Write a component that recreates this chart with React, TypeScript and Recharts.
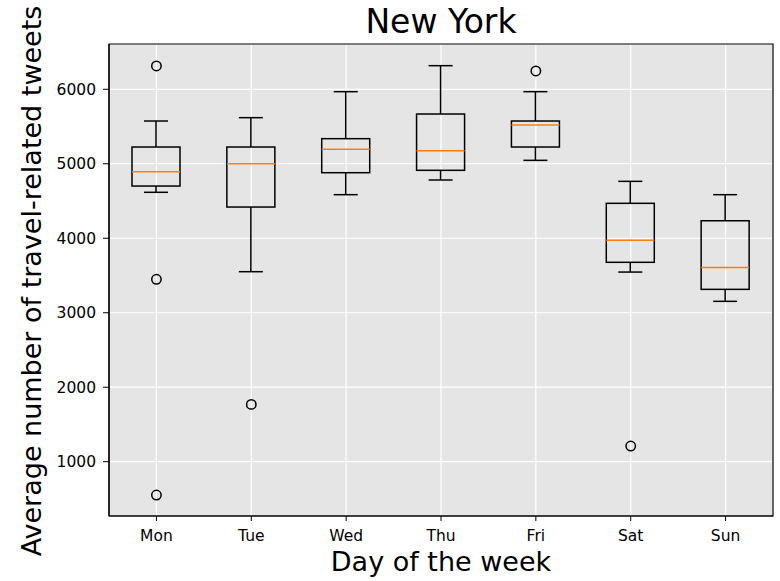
import React from "react";
import { Bar, CartesianGrid, ComposedChart, ReferenceArea, Scatter, XAxis, YAxis } from "recharts";

const days = ["Mon", "Tue", "Wed", "Thu", "Fri", "Sat", "Sun"];
const whiskerLow = [4617, 3551, 4585, 4782, 5046, 3546, 3153];
const q1 = [4701, 4419, 4880, 4912, 5225, 3677, 3314];
const median = [4894, 5000, 5194, 5176, 5521, 3972, 3609];
const q3 = [5225, 5225, 5337, 5668, 5574, 4469, 4235];
const whiskerHigh = [5574, 5619, 5968, 6317, 5968, 4764, 4585];
const outliers: number[][] = [[6313, 3449, 552], [1769], [], [], [6246], [1210], []];
const yTicks = [1000, 2000, 3000, 4000, 5000, 6000];
const yDomain = [271, 6608];

const rows = days.map((day, i) => ({
  day,
  low: whiskerLow[i],
  q1: q1[i],
  med: median[i],
  q3: q3[i],
  high: whiskerHigh[i],
  out0: outliers[i][0] ?? null,
  out1: outliers[i][1] ?? null,
  out2: outliers[i][2] ?? null
}));

const font = "DejaVu Sans, Verdana, sans-serif";
const line = "#000";

// the bar spans low..high, so the rest of the box is placed along that span
function BoxShape(props: any) {
  const { x, y, width, height, payload } = props;
  if (payload == null || height == null) return <g />;
  const top = Math.min(y, y + height);
  const bottom = Math.max(y, y + height);
  const per = (bottom - top) / (payload.high - payload.low);
  const toY = (v: number) => bottom - (v - payload.low) * per;
  const cx = x + width / 2;
  const cap = width / 4;
  const yq1 = toY(payload.q1);
  const yq3 = toY(payload.q3);
  const ymed = toY(payload.med);
  return (
    <g>
      <line x1={cx} x2={cx} y1={top} y2={yq3} stroke={line} strokeWidth={1.5} />
      <line x1={cx} x2={cx} y1={yq1} y2={bottom} stroke={line} strokeWidth={1.5} />
      <line x1={cx - cap} x2={cx + cap} y1={top} y2={top} stroke={line} strokeWidth={1.5} />
      <line x1={cx - cap} x2={cx + cap} y1={bottom} y2={bottom} stroke={line} strokeWidth={1.5} />
      <rect x={x} y={yq3} width={width} height={yq1 - yq3} fill="none" stroke={line} strokeWidth={1.5} />
      <line x1={x} x2={x + width} y1={ymed} y2={ymed} stroke="#ff7f0e" strokeWidth={1.5} />
    </g>
  );
}

const flier = (key: string) => (props: any) => {
  const { cx, cy, payload } = props;
  if (payload == null || payload[key] == null || cx == null || cy == null || Number.isNaN(cy)) return <g />;
  return <circle cx={cx} cy={cy} r={4.7} fill="none" stroke={line} strokeWidth={1.5} />;
};

export default function App() {
  return (
    <div style={{ position: "absolute", left: 0, top: 0, width: 780, height: 581, background: "#fff" }}>
      <ComposedChart width={780} height={581} data={rows} margin={{ top: 44, right: 7, bottom: 0, left: 0 }}>
        <CartesianGrid fill="#e5e5e5" stroke="#fff" strokeWidth={1.2} />
        <XAxis
          dataKey="day"
          height={65}
          tickSize={5}
          tickMargin={9}
          tick={{ fontSize: 15.5, fill: "#000", fontFamily: font }}
          tickLine={{ stroke: line }}
          axisLine={{ stroke: line, strokeWidth: 1.2 }}
        />
        <YAxis
          type="number"
          domain={yDomain}
          ticks={yTicks}
          allowDataOverflow
          width={109}
          tickSize={6}
          tickMargin={7}
          tick={{ fontSize: 15.5, fill: "#000", fontFamily: font }}
          tickLine={{ stroke: line }}
          axisLine={{ stroke: line, strokeWidth: 1.2 }}
        />
        <ReferenceArea y1={yDomain[0]} y2={yDomain[1]} fill="none" stroke={line} strokeWidth={1.2} ifOverflow="visible" />
        <Bar dataKey={(d: any) => [d.low, d.high]} barSize={48} shape={<BoxShape />} isAnimationActive={false} />
        <Scatter dataKey="out0" shape={flier("out0")} isAnimationActive={false} />
        <Scatter dataKey="out1" shape={flier("out1")} isAnimationActive={false} />
        <Scatter dataKey="out2" shape={flier("out2")} isAnimationActive={false} />
      </ComposedChart>
      <svg width={780} height={581} style={{ position: "absolute", left: 0, top: 0, pointerEvents: "none" }}>
        <text x={441} y={33} textAnchor="middle" fontSize={33} fontFamily={font} fill="#000">
          New York
        </text>
        <text x={441} y={571} textAnchor="middle" fontSize={27} fontFamily={font} fill="#000">
          Day of the week
        </text>
        <text x={40.5} y={281} textAnchor="middle" fontSize={27} fontFamily={font} fill="#000" transform="rotate(-90 40.5 281)">
          Average number of travel-related tweets
        </text>
      </svg>
    </div>
  );
}
